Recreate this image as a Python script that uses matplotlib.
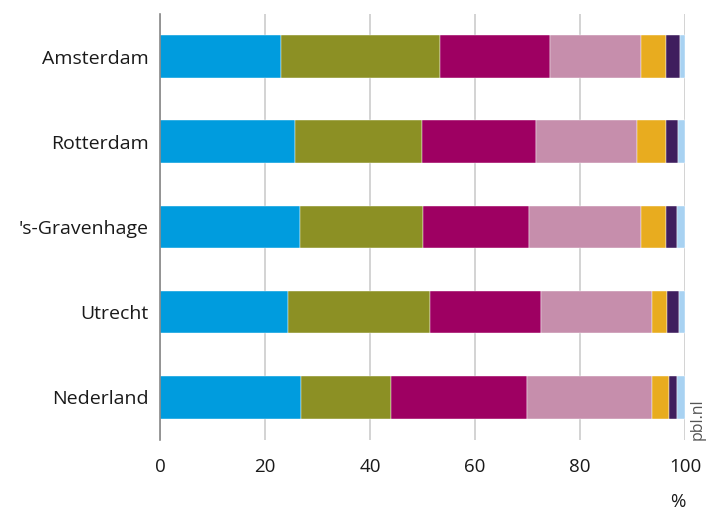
import matplotlib.pyplot as plt
import numpy as np

plt.rcParams["font.family"] = ["Open Sans", "DejaVu Sans"]

CATEGORIES = ["Amsterdam", "Rotterdam", "'s-Gravenhage", "Utrecht", "Nederland"]

# segment shares (%) per category, left to right
SEG_1 = [23.1, 25.7, 26.7, 24.4, 26.9]
SEG_2 = [30.2, 24.3, 23.4, 27.1, 17.2]
SEG_3 = [21.0, 21.7, 20.1, 21.0, 25.8]
SEG_4 = [17.3, 19.2, 21.5, 21.3, 23.8]
SEG_5 = [4.7, 5.4, 4.6, 2.7, 3.2]
SEG_6 = [2.8, 2.3, 2.2, 2.3, 1.6]
SEG_7 = [0.9, 1.4, 1.5, 1.2, 1.5]

SEGMENTS = [SEG_1, SEG_2, SEG_3, SEG_4, SEG_5, SEG_6, SEG_7]
COLORS = ["#009cde", "#8c9024", "#9e0062", "#c68eac", "#e8ac1f", "#3f1e5e", "#a8d2f2"]

X_TICKS = [0, 20, 40, 60, 80, 100]


def main():
    fig = plt.figure(figsize=(7.06, 5.11), dpi=100)
    ax = fig.add_axes([0.2266, 0.139, 0.7436, 0.8336])

    y = np.arange(len(CATEGORIES))
    left = np.zeros(len(CATEGORIES))
    for vals, col in zip(SEGMENTS, COLORS):
        vals = np.array(vals)
        ax.barh(y, vals, left=left, height=0.5, color=col,
                edgecolor="white", linewidth=0.3, zorder=3)
        left += vals

    ax.set_ylim(len(CATEGORIES) - 0.5, -0.5)
    ax.set_xlim(0, 100)
    ax.set_yticks(y)
    ax.set_yticklabels(CATEGORIES, fontsize=14, color="#1a1a1a")
    ax.set_xticks(X_TICKS)
    ax.set_xticklabels([str(t) for t in X_TICKS], fontsize=13.5, color="#1a1a1a")
    ax.tick_params(axis="both", length=0)
    ax.tick_params(axis="x", pad=13)
    ax.tick_params(axis="y", pad=8)

    for s in ["top", "right", "bottom"]:
        ax.spines[s].set_visible(False)
    ax.spines["left"].set_color("#888888")
    ax.spines["left"].set_linewidth(1.2)
    ax.spines["left"].set_zorder(4)

    ax.grid(axis="x", color="#cccccc", linewidth=1.2, zorder=0)
    ax.set_axisbelow(True)

    fig.text(0.960, 0.0, "%", fontsize=13.5, color="#1a1a1a", ha="center", va="bottom")
    fig.text(1.0, 0.139, "pbl.nl", fontsize=11.5, color="#555555",
             rotation=90, ha="right", va="bottom")

    fig.savefig("out.png", dpi=100)
    plt.close(fig)


if __name__ == "__main__":
    main()
